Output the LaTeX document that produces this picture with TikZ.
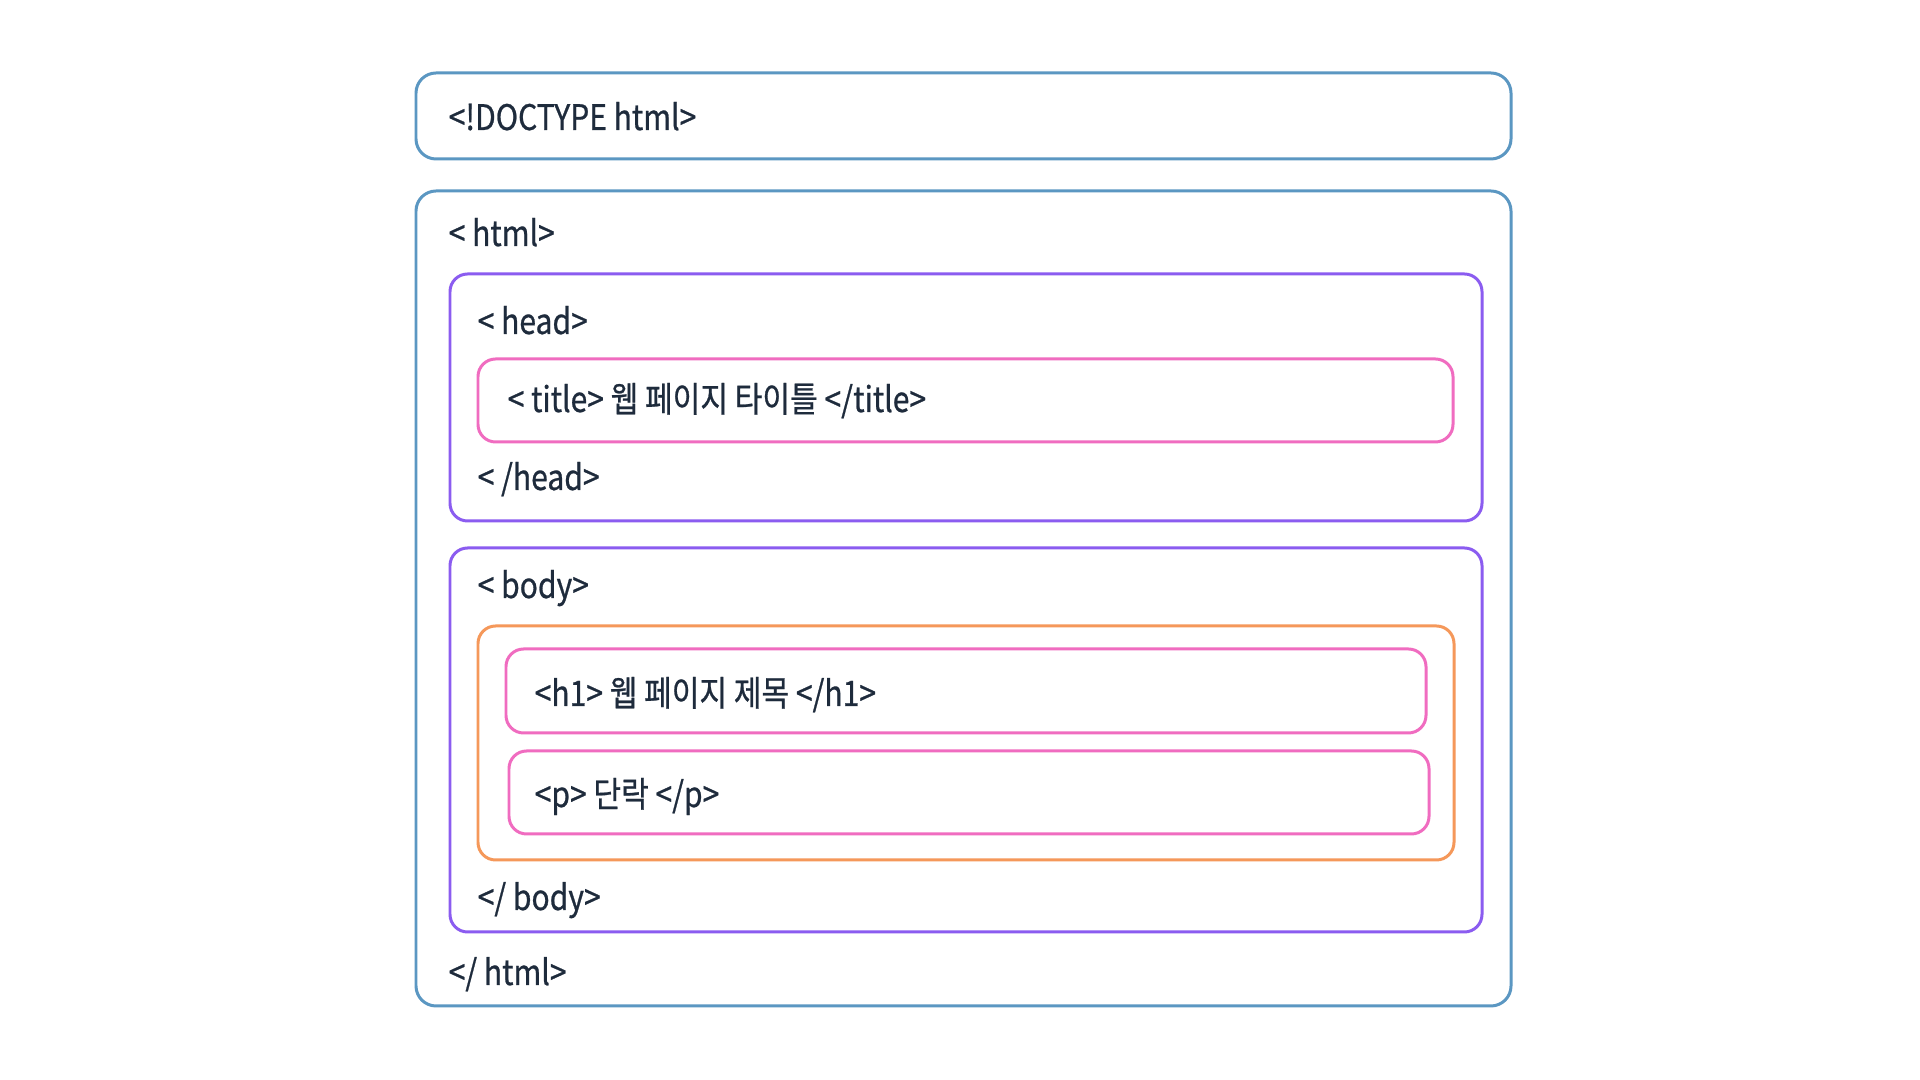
\documentclass[tikz,border=0pt]{standalone}
\usepackage{fontspec}
\setmainfont{Noto Sans CJK KR}[FakeStretch=0.855, FakeBold=0.7]
\definecolor{cblue}{HTML}{5B97C2}
\definecolor{cpurple}{HTML}{8B5CF0}
\definecolor{cpink}{HTML}{F06CC0}
\definecolor{corange}{HTML}{F5985A}
\definecolor{ctext}{HTML}{1E2B3C}
\tikzset{
  boxbase/.style={draw, line width=0.85pt, inner sep=0pt, outer sep=0pt, anchor=north west},
  bluebox/.style={boxbase, draw=cblue, rounded corners=5.7pt},
  purplebox/.style={boxbase, draw=cpurple, rounded corners=5pt},
  pinkbox/.style={boxbase, draw=cpink, rounded corners=5pt},
  orangebox/.style={boxbase, draw=corange, rounded corners=5pt},
  lbl/.style={anchor=base west, inner sep=0pt, text=ctext, font=\fontsize{10pt}{12pt}\selectfont},
}
\newcommand{\bx}[6]{\node[#1, minimum width={(#4-#2)*0.01cm}, minimum height={(#5-#3)*0.01cm}] (#6) at (#2*0.01cm,-#3*0.01cm) {};}
\begin{document}
\begin{tikzpicture}[x=0.01cm,y=-0.01cm]
\useasboundingbox[fill=white] (0,0) rectangle (1920,1080);
% boxes
\bx{bluebox}{416}{73}{1511}{159}{doctype}
\bx{bluebox}{416}{191}{1511}{1006}{html}
\bx{purplebox}{450}{274}{1482}{521}{head}
\bx{pinkbox}{478}{359}{1453}{442}{title}
\bx{purplebox}{450}{548}{1482}{932}{body}
\bx{orangebox}{478}{626}{1454}{860}{main}
\bx{pinkbox}{506}{649}{1426}{733}{hone}
\bx{pinkbox}{509}{751}{1429}{834}{para}
% labels
\node[lbl] (t1) at (448,130) {<!DOCTYPE html>};
\node[lbl] (t2) at (448,246) {< html>};
\node[lbl] (t3) at (477,334) {< head>};
\node[lbl] (t4) at (507,412) {< title> 웹 페이지 타이틀 </title>};
\node[lbl] (t5) at (477,490) {< /head>};
\node[lbl] (t6) at (477,598) {< body>};
\node[lbl] (t7) at (534,706) {<h1> 웹 페이지 제목 </h1>};
\node[lbl] (t8) at (534,807) {<p> 단락 </p>};
\node[lbl] (t9) at (477,910) {</ body>};
\node[lbl] (t10) at (448,985) {</ html>};
\end{tikzpicture}
\end{document}
